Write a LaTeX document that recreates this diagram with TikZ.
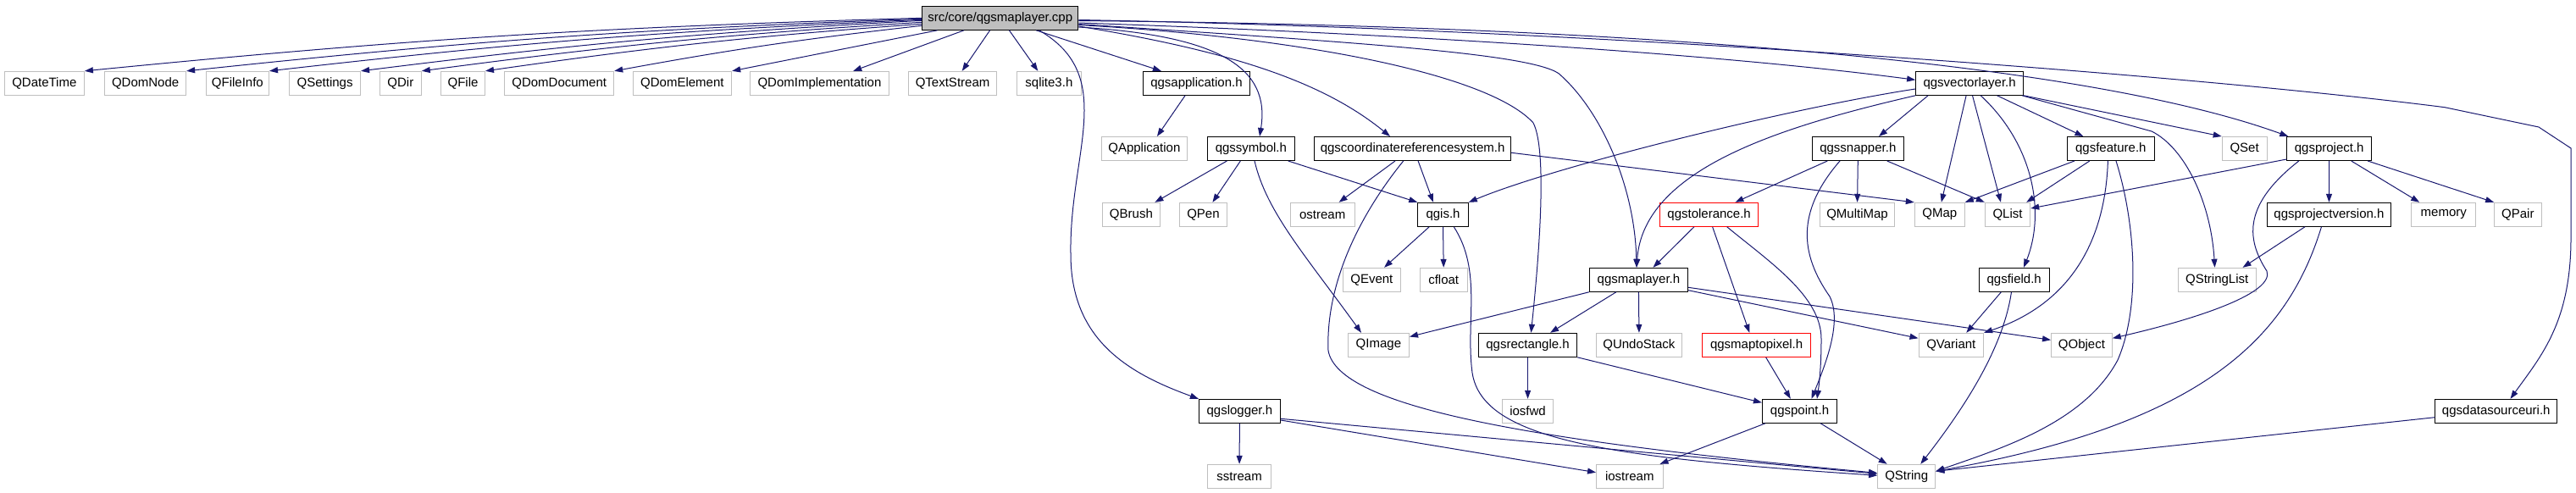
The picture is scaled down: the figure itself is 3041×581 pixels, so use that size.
\documentclass[tikz,border=0pt]{standalone}
\usepackage{fontspec}
\setmainfont{Liberation Sans}
\usetikzlibrary{arrows.meta}
\definecolor{edgecol}{HTML}{191970}
\definecolor{graybd}{HTML}{BFBFBF}
\tikzset{
  nb/.style={rectangle, inner sep=0pt, minimum height=28pt, line width=1pt, font=\fontsize{15}{18}\selectfont},
  g/.style={nb, draw=graybd},
  b/.style={nb, draw=black},
  r/.style={nb, draw=red},
  topbox/.style={nb, draw=black, fill=graybd},
  e/.style={draw=edgecol, line width=1pt, -{Triangle[length=10pt,width=7pt]}}
}
\begin{document}
\begin{tikzpicture}[x=1pt,y=-1pt]
\useasboundingbox[fill=white] (0,0) rectangle (3041,581);
% nodes
\node[topbox, minimum width=184.2pt] (T) at (1180.7,21.3) {src/core/qgsmaplayer.cpp};
\node[g, minimum width=94.1pt] (QDateTime) at (52.35,98.3) {QDateTime};
\node[g, minimum width=96pt] (QDomNode) at (171.6,98.3) {QDomNode};
\node[g, minimum width=74.2pt] (QFileInfo) at (280.4,98.3) {QFileInfo};
\node[g, minimum width=83.9pt] (QSettings) at (383.65,98.3) {QSettings};
\node[g, minimum width=48.9pt] (QDir) at (472.85,98.3) {QDir};
\node[g, minimum width=51.9pt] (QFile) at (546.55,98.3) {QFile};
\node[g, minimum width=129pt] (QDomDocument) at (660.2,98.3) {QDomDocument};
\node[g, minimum width=116.7pt] (QDomElement) at (805.35,98.3) {QDomElement};
\node[g, minimum width=163.9pt] (QDomImplementation) at (967.45,98.3) {QDomImplementation};
\node[g, minimum width=103.7pt] (QTextStream) at (1124.55,98.3) {QTextStream};
\node[g, minimum width=76.6pt] (sqlite) at (1238.4,98.3) {sqlite3.h};
\node[b, minimum width=126.1pt] (qgsapplication) at (1412.45,98.3) {qgsapplication.h};
\node[b, minimum width=127pt] (qgsvectorlayer) at (2325.1,98.3) {qgsvectorlayer.h};
\node[g, minimum width=100.8pt] (QApplication) at (1350.9,175.5) {QApplication};
\node[b, minimum width=102.7pt] (qgssymbol) at (1476.85,175.5) {qgssymbol.h};
\node[b, minimum width=232.2pt] (crs) at (1667.6,175.5) {qgscoordinatereferencesystem.h};
\node[b, minimum width=107.6pt] (qgssnapper) at (2193.3,175.5) {qgssnapper.h};
\node[b, minimum width=102.8pt] (qgsfeature) at (2491.8,175.5) {qgsfeature.h};
\node[g, minimum width=52.8pt] (QSet) at (2649.6,175.5) {QSet};
\node[b, minimum width=99.8pt] (qgsproject) at (2749.7,175.5) {qgsproject.h};
\node[g, minimum width=67.8pt] (QBrush) at (1335.4,253.3) {QBrush};
\node[g, minimum width=55.7pt] (QPen) at (1420.45,253.3) {QPen};
\node[g, minimum width=75.6pt] (ostream) at (1561.2,253.3) {ostream};
\node[b, minimum width=59.6pt] (qgis) at (1703.5,253.3) {qgis.h};
\node[r, minimum width=115.8pt] (qgstolerance) at (2017.6,253.3) {qgstolerance.h};
\node[g, minimum width=87.7pt] (QMultiMap) at (2192.55,253.3) {QMultiMap};
\node[g, minimum width=59pt] (QMap) at (2289.8,253.3) {QMap};
\node[g, minimum width=53.4pt] (QList) at (2370,253.3) {QList};
\node[b, minimum width=146.9pt] (qgsprojectversion) at (2749.45,253.3) {qgsprojectversion.h};
\node[g, minimum width=76.1pt] (memory) at (2884.75,253.3) {memory};
\node[g, minimum width=55.4pt] (QPair) at (2972.3,253.3) {QPair};
\node[g, minimum width=67.9pt] (QEvent) at (1619.35,330.3) {QEvent};
\node[g, minimum width=56.2pt] (cfloat) at (1704.2,330.3) {cfloat};
\node[b, minimum width=116.3pt] (qgsmaplayer) at (1934.45,330.3) {qgsmaplayer.h};
\node[b, minimum width=82.9pt] (qgsfield) at (2377.65,330.3) {qgsfield.h};
\node[g, minimum width=91.7pt] (QStringList) at (2617.15,330.3) {QStringList};
\node[g, minimum width=72.2pt] (QImage) at (1627.4,407.3) {QImage};
\node[b, minimum width=116.3pt] (qgsrectangle) at (1803.55,407.3) {qgsrectangle.h};
\node[g, minimum width=100.8pt] (QUndoStack) at (1934.9,407.3) {QUndoStack};
\node[r, minimum width=128pt] (qgsmaptopixel) at (2073.6,407.3) {qgsmaptopixel.h};
\node[g, minimum width=76.6pt] (QVariant) at (2303.3,407.3) {QVariant};
\node[g, minimum width=71.8pt] (QObject) at (2457.4,407.3) {QObject};
\node[b, minimum width=95.9pt] (qgslogger) at (1463.35,485.3) {qgslogger.h};
\node[g, minimum width=60.1pt] (iosfwd) at (1803.55,485.3) {iosfwd};
\node[b, minimum width=88.2pt] (qgspoint) at (2124.5,485.3) {qgspoint.h};
\node[b, minimum width=143.9pt] (qgsdatasourceuri) at (2946.75,485.3) {qgsdatasourceuri.h};
\node[g, minimum width=75.2pt] (sstream) at (1463.1,562.3) {sstream};
\node[g, minimum width=78.5pt] (iostream) at (1923.75,562.3) {iostream};
\node[g, minimum width=68.2pt] (QString) at (2250.7,562.3) {QString};
% edges from top node, left fan
\draw[e] (T.west) to[bend right=2] (QDateTime.north east);
\draw[e] ([yshift=-1pt]T.west) to[bend right=2] (QDomNode.north east);
\draw[e] ([yshift=-2pt]T.west) to[bend right=2] (QFileInfo.north east);
\draw[e] ([yshift=-3pt]T.west) to[bend right=2] (QSettings.north east);
\draw[e] ([yshift=-5pt]T.west) to[bend right=2] (QDir.north east);
\draw[e] ([yshift=-7pt]T.west) to[bend right=2] (QFile.north east);
\draw[e] ([yshift=-9pt]T.west) to[bend right=2] (QDomDocument.north east);
\draw[e] ([xshift=-74.1pt]T.south) -- (QDomElement.north east);
\draw[e] ([xshift=-42.7pt]T.south) -- ([xshift=39.75pt]QDomImplementation.north);
\draw[e] ([xshift=-12.1pt]T.south) -- ([xshift=11.15pt]QTextStream.north);
\draw[e] ([xshift=10.7pt]T.south) -- ([xshift=-13.1pt]sqlite.north);
\draw[e] ([xshift=42.5pt]T.south) -- ([xshift=-41.6pt]qgsapplication.north);
\draw[e] ([xshift=46pt]T.south) .. controls (1320,90) and (1262,180) .. (1264,300) .. controls (1264,400) and (1330,440) .. (qgslogger.north west);
% edges from top node, right fan
\draw[e] ([yshift=-2.2pt]T.east) .. controls (1900,35) and (2600,90) .. (2886,126.7) -- (2997,150) -- (3035,175) -- (3035,281) .. controls (3035,380) and (3000,420) .. ([xshift=16.75pt]qgsdatasourceuri.north);
\draw[e] ([yshift=-3.2pt]T.east) .. controls (1900,30) and (2450,70) .. ([xshift=2pt]qgsproject.north west);
\draw[e] ([yshift=-5.7pt]T.east) .. controls (1600,38) and (2000,60) .. ([yshift=4pt]qgsvectorlayer.west);
\draw[e] ([yshift=-7.2pt]T.east) .. controls (1600,50) and (1805,63) .. (1840,86.7) .. controls (1890,130) and (1930,220) .. ([xshift=-2.45pt]qgsmaplayer.north);
\draw[e] ([yshift=-8.2pt]T.east) .. controls (1550,45) and (1760,90) .. (1810,145) .. controls (1828,180) and (1815,320) .. ([xshift=3.85pt]qgsrectangle.north);
\draw[e] ([yshift=-9.7pt]T.east) .. controls (1450,60) and (1560,95) .. ([xshift=-26.6pt]crs.north);
\draw[e] ([yshift=-10.7pt]T.east) .. controls (1440,42) and (1500,80) .. ([xshift=10.15pt]qgssymbol.north);
% qgsapplication, qgssymbol
\draw[e] ([xshift=-13.4pt]qgsapplication.south) -- ([xshift=15pt]QApplication.north);
\draw[e] ([xshift=-28.5pt]qgssymbol.south) -- ([xshift=28pt]QBrush.north);
\draw[e] ([xshift=-12.5pt]qgssymbol.south) -- ([xshift=11pt]QPen.north);
\draw[e] ([xshift=-8pt]qgssymbol.south east) -- (qgis.north west);
\draw[e] ([xshift=4.15pt]qgssymbol.south) .. controls (1495,250) and (1540,300) .. ([xshift=-20.4pt]QImage.north);
% crs
\draw[e] ([xshift=-20.6pt]crs.south) -- ([xshift=19.4pt]ostream.north);
\draw[e] ([xshift=6.5pt]crs.south) -- ([xshift=-11.5pt]qgis.north);
\draw[e] ([yshift=-4.8pt]crs.east) -- (QMap.north west);
\draw[e] ([xshift=-10.9pt]crs.south) .. controls (1600,260) and (1565,340) .. (1568,414) .. controls (1580,480) and (1800,520) .. ([yshift=4pt]QString.west);
% qgis
\draw[e] ([xshift=-16.3pt]qgis.south) -- ([xshift=14.7pt]QEvent.north);
\draw[e] (qgis.south) -- (cfloat.north);
\draw[e] ([xshift=12.8pt]qgis.south) .. controls (1750,320) and (1730,380) .. (1738,440) .. controls (1750,520) and (1900,540) .. ([yshift=1pt]QString.west);
% qgsvectorlayer
\draw[e] ([yshift=-6.7pt]qgsvectorlayer.west) .. controls (2111,128) and (1833,197) .. (qgis.north east);
\draw[e] (qgsvectorlayer.south west) .. controls (2100,150) and (1940,200) .. ([xshift=-2.45pt]qgsmaplayer.north);
\draw[e] ([xshift=-49pt]qgsvectorlayer.south) -- ([xshift=24.7pt]qgssnapper.north);
\draw[e] ([xshift=-4pt]qgsvectorlayer.south) -- ([xshift=2pt]QMap.north);
\draw[e] ([xshift=3.4pt]qgsvectorlayer.south) -- ([xshift=-8pt]QList.north);
\draw[e] ([xshift=13.1pt]qgsvectorlayer.south) .. controls (2400,170) and (2415,250) .. ([xshift=11.4pt]qgsfield.north);
\draw[e] ([xshift=32.5pt]qgsvectorlayer.south) -- ([xshift=-32.4pt]qgsfeature.north);
\draw[e] (qgsvectorlayer.south east) -- (QSet.north west);
\draw[e] ([xshift=-2pt]qgsvectorlayer.south east) -- (2540,155) .. controls (2580,175) and (2610,240) .. ([xshift=-2.6pt]QStringList.north);
% qgssnapper
\draw[e] ([xshift=-36pt]qgssnapper.south) -- ([xshift=30.8pt]qgstolerance.north);
\draw[e] (qgssnapper.south) -- (QMultiMap.north);
\draw[e] ([xshift=34.4pt]qgssnapper.south) -- (QList.north west);
\draw[e] ([xshift=-21.3pt]qgssnapper.south) .. controls (2120,250) and (2125,300) .. (2160,350) .. controls (2175,380) and (2155,430) .. ([xshift=14pt]qgspoint.north);
% qgstolerance
\draw[e] ([xshift=-17.7pt]qgstolerance.south) -- ([xshift=17pt]qgsmaplayer.north);
\draw[e] ([xshift=4pt]qgstolerance.south) -- ([xshift=-8.3pt]qgsmaptopixel.north);
\draw[e] ([xshift=21.1pt]qgstolerance.south) .. controls (2090,310) and (2150,350) .. (2150,400) .. controls (2150,430) and (2148,450) .. ([xshift=20.5pt]qgspoint.north);
% qgsmaplayer
\draw[e] (qgsmaplayer.south west) -- ([yshift=-4.7pt]QImage.north east);
\draw[e] ([xshift=-26.6pt]qgsmaplayer.south) -- ([xshift=26.5pt]qgsrectangle.north);
\draw[e] (qgsmaplayer.south) -- (QUndoStack.north);
\draw[e] ([yshift=-12.4pt]qgsmaplayer.east) -- ([yshift=8pt]QVariant.west);
\draw[e] ([yshift=-9pt]qgsmaplayer.east) -- ([yshift=6pt]QObject.west);
% qgsrectangle, qgsmaptopixel, qgspoint
\draw[e] (qgsrectangle.south) -- (iosfwd.north);
\draw[e] (qgsrectangle.south east) -- ([yshift=10pt]qgspoint.west);
\draw[e] ([xshift=11pt]qgsmaptopixel.south) -- ([xshift=-10.7pt]qgspoint.north);
\draw[e] ([xshift=4pt]qgspoint.south west) -- ([xshift=-4pt]iostream.north east);
\draw[e] ([xshift=24.7pt]qgspoint.south) -- ([xshift=-23pt]QString.north);
% qgslogger
\draw[e] (qgslogger.south) -- (sstream.north);
\draw[e] ([yshift=-10.7pt]qgslogger.east) -- ([yshift=4.6pt]iostream.west);
\draw[e] ([yshift=-9pt]qgslogger.east) -- ([yshift=3pt]QString.west);
% qgsfeature
\draw[e] ([xshift=9pt]qgsfeature.south west) -- (QMap.north east);
\draw[e] ([xshift=-25pt]qgsfeature.south) -- ([xshift=-5pt]QList.north east);
\draw[e] ([xshift=-3.4pt]qgsfeature.south) .. controls (2485,290) and (2440,360) .. (QVariant.north east);
\draw[e] ([xshift=6.2pt]qgsfeature.south) .. controls (2520,260) and (2528,360) .. (2500,425) .. controls (2460,500) and (2360,530) .. ([yshift=6pt]QString.east);
% qgsfield
\draw[e] ([xshift=-15.3pt]qgsfield.south) -- ([xshift=18pt]QVariant.north);
\draw[e] ([xshift=-3.2pt]qgsfield.south) .. controls (2365,410) and (2320,480) .. ([xshift=-18pt]QString.north east);
% qgsproject
\draw[e] ([yshift=2pt]qgsproject.south west) -- ([yshift=7.3pt]QList.east);
\draw[e] (qgsproject.south) -- (qgsprojectversion.north);
\draw[e] ([xshift=26pt]qgsproject.south) -- ([xshift=10pt]memory.north west);
\draw[e] ([xshift=-5pt]qgsproject.south east) -- (QPair.north west);
\draw[e] ([xshift=-35.9pt]qgsproject.south) .. controls (2650,240) and (2650,280) .. (2676,320) .. controls (2685,345) and (2600,375) .. ([yshift=8pt]QObject.east);
% qgsprojectversion
\draw[e] ([xshift=-28.5pt]qgsprojectversion.south) -- ([xshift=-16pt]QStringList.north east);
\draw[e] ([xshift=-9pt]qgsprojectversion.south) .. controls (2700,400) and (2600,500) .. ([yshift=6pt]QString.east);
% qgsdatasourceuri
\draw[e] ([yshift=-7.4pt]qgsdatasourceuri.west) -- ([yshift=6pt]QString.east);
\end{tikzpicture}
\end{document}
